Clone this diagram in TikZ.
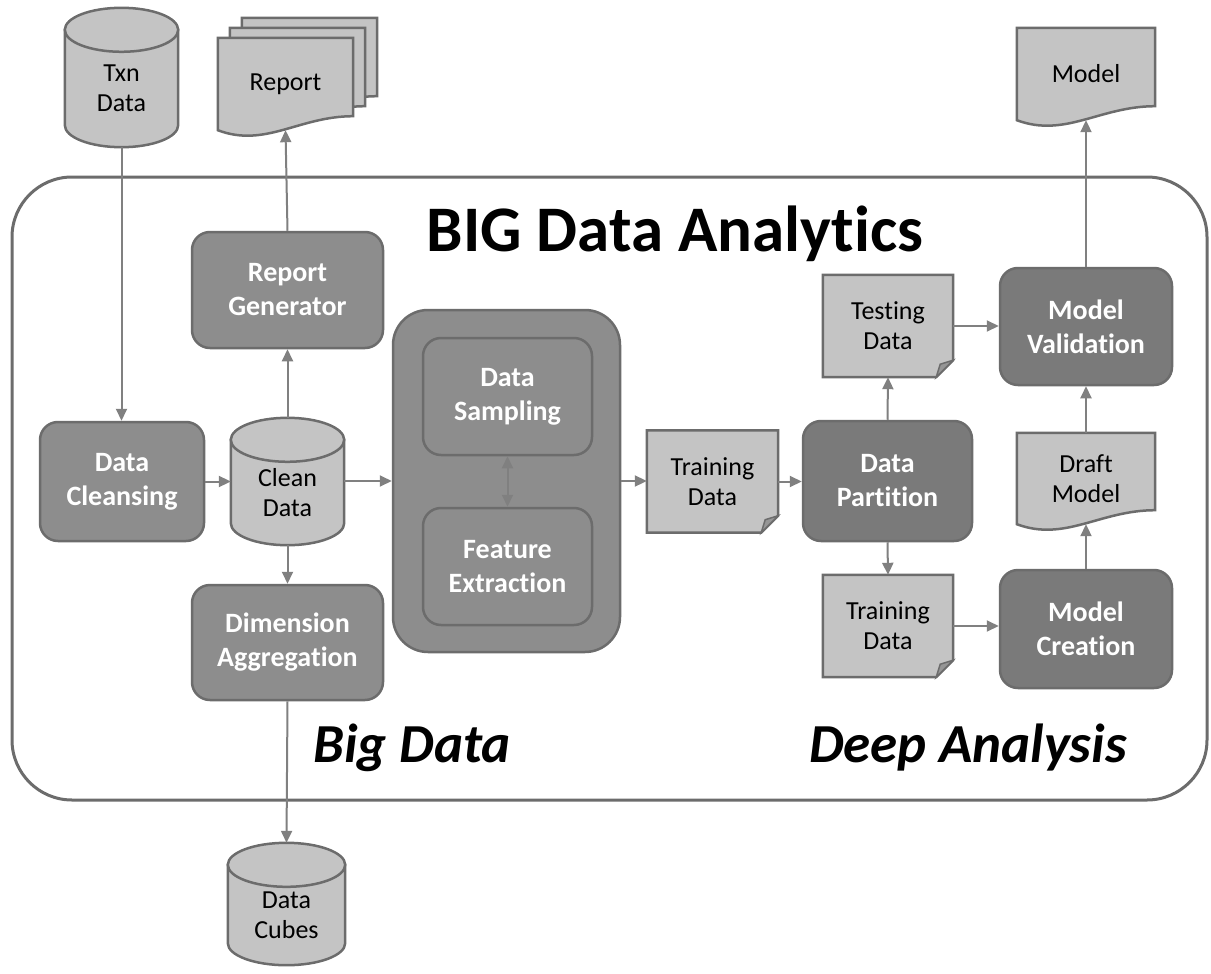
\documentclass[tikz,border=0pt]{standalone}
\usepackage{fontspec}
\setmainfont{Carlito}[Ligatures=NoCommon]
\usetikzlibrary{arrows.meta,calc,backgrounds}

\definecolor{lightfill}{RGB}{196,196,196}
\definecolor{boxfill}{RGB}{141,141,141}
\definecolor{darkfill}{RGB}{122,122,122}
\definecolor{edgegray}{RGB}{108,108,108}
\definecolor{arrowgray}{RGB}{128,128,128}
\definecolor{foldgray}{RGB}{150,150,150}

\tikzset{
  procbox/.style={rectangle, rounded corners=18pt, draw=edgegray, line width=2.5pt,
    fill=boxfill, text=white, font=\fontsize{28}{34}\selectfont\bfseries, align=center, inner sep=0pt},
  darkbox/.style={procbox, fill=darkfill},
  paper/.style={rectangle, inner sep=0pt, font=\fontsize{26}{30}\selectfont, align=center},
  docline/.style={draw=edgegray, line width=2.5pt, fill=lightfill},
  flow/.style={draw=arrowgray, line width=2pt, -{Triangle[length=12pt,width=11pt]}},
  twoway/.style={flow, {Triangle[length=12pt,width=11pt]}-{Triangle[length=12pt,width=11pt]}},
}

% data store: node is the body below the centre of the top face
\newcommand{\drum}[1]{%
  \draw[docline] (#1.north west) -- ($(#1.south west)+(0,-22)$)
    .. controls ($(#1.south west)+(0,-9.85)$) and ($(#1.south)!0.5523!(#1.south west)$) .. (#1.south)
    .. controls ($(#1.south)!0.5523!(#1.south east)$) and ($(#1.south east)+(0,-9.85)$) .. ($(#1.south east)+(0,-22)$)
    -- (#1.north east) -- cycle;
  \path[docline] let \p1=($(#1.north east)-(#1.north)$) in (#1.north) ellipse [x radius=\x1, y radius=22pt];}
% document with a wavy bottom edge
\newcommand{\wavepaper}[1]{%
  \draw[docline] (#1.south west)
    .. controls ($(#1.south west)!0.35!(#1.south east)+(0,18)$)
    and ($(#1.south west)!0.6!(#1.south east)+(0,-14)$)
    .. ($(#1.south east)+(0,-14)$) -- (#1.north east) -- (#1.north west) -- cycle;}
% note with a folded corner
\newcommand{\foldpaper}[1]{%
  \draw[docline] (#1.north west) -- (#1.north east) -- ($(#1.south east)+(0,-17)$)
    -- ($(#1.south east)+(-17,0)$) -- (#1.south west) -- cycle;
  \draw[docline, fill=foldgray, line width=1.5pt] ($(#1.south east)+(0,-17)$)
    -- ($(#1.south east)+(-13,-13)$) -- ($(#1.south east)+(-17,0)$) -- cycle;}

\begin{document}
\begin{tikzpicture}[x=1pt, y=-1pt]
    \useasboundingbox (0,0) rectangle (1211,974);

    % Stores
    \node[paper, minimum width=113pt, minimum height=117pt] (txn) at (121.5,88.5) {Txn\\Data};
    \node[paper, minimum width=113pt, minimum height=105pt] (clean) at (287.5,492.5) {Clean\\Data};
    \node[paper, minimum width=117pt, minimum height=100pt] (cubes) at (286.5,915) {Data\\Cubes};

    % Report stack and documents
    \node[paper, minimum width=135pt, minimum height=92pt] (report3) at (309.5,64) {};
    \node[paper, minimum width=135pt, minimum height=92pt] (report2) at (297.5,74) {};
    \node[paper, minimum width=135pt, minimum height=92pt] (report) at (285.5,84) {Report};
    \node[paper, minimum width=138pt, minimum height=92pt] (model) at (1086,74) {Model};
    \node[paper, minimum width=138pt, minimum height=91pt] (draft) at (1086,478.5) {Draft\\Model};
    \node[paper, minimum width=131pt, minimum height=102pt] (train) at (712.5,481.5) {Training\\Data};
    \node[paper, minimum width=130pt, minimum height=102pt] (testing) at (888,326) {Testing\\Data};
    \node[paper, minimum width=130pt, minimum height=102pt] (trainb) at (888,626) {Training\\Data};

    % Big Data steps
    \node[procbox, minimum width=191pt, minimum height=116pt] (repgen) at (287.5,290) {Report\\Generator};
    \node[procbox, minimum width=164pt, minimum height=119pt] (cleansing) at (122,481.5) {Data\\Cleansing};
    \node[procbox, minimum width=191pt, minimum height=115pt] (dimagg) at (287.5,642.5) {Dimension\\Aggregation};
    \node[procbox, minimum width=227pt, minimum height=342pt, rounded corners=35pt] (prep) at (506.5,481) {};
    \node[procbox, minimum width=169pt, minimum height=117pt] (sampling) at (507.5,396.5) {Data\\Sampling};
    \node[procbox, minimum width=169pt, minimum height=117pt] (feature) at (507.5,566.5) {Feature\\Extraction};

    % Deep Analysis steps
    \node[darkbox, minimum width=169pt, minimum height=120pt] (partition) at (887.5,481) {Data\\Partition};
    \node[darkbox, minimum width=172pt, minimum height=117pt] (validation) at (1086,326.5) {Model\\Validation};
    \node[darkbox, minimum width=172pt, minimum height=118pt] (creation) at (1086,629) {Model\\Creation};

    % Labels
    \node[font=\fontsize{65}{70}\selectfont\bfseries] (title) at (675,234) {BIG Data Analytics};
    \node[font=\fontsize{55}{60}\selectfont\bfseries\itshape] (bigdata) at (412,748) {Big Data};
    \node[font=\fontsize{55}{60}\selectfont\bfseries\itshape] (deep) at (968,748) {Deep Analysis};

    % Frame, stores and document outlines
    \begin{scope}[on background layer]
        \draw[draw=edgegray, line width=3pt, fill=white, rounded corners=60pt] (12,177) rectangle (1207,800);
        \drum{txn}
        \drum{clean}
        \drum{cubes}
        \wavepaper{report3}
        \wavepaper{report2}
        \wavepaper{report}
        \wavepaper{model}
        \wavepaper{draft}
        \foldpaper{train}
        \foldpaper{testing}
        \foldpaper{trainb}
    \end{scope}

    % Connectors
    \draw[flow] (txn.south) -- (txn.south |- cleansing.north);
    \draw[flow] (cleansing.east) -- (cleansing.east -| clean.west);
    \draw[flow] (prep.west -| clean.east) -- (prep.west);
    \draw[flow] ($(clean.north)+(0,-22)$) -- (repgen.south);
    \draw[flow] (repgen.north) -- (report.south);
    \draw[flow] (clean.south) -- (dimagg.north);
    \draw[flow] (dimagg.south) -- ($(cubes.north)+(0,-22)$);
    \draw[twoway] (sampling.south) -- (feature.north);
    \draw[flow] (prep.east) -- (prep.east -| train.west);
    \draw[flow] (train.east) -- (train.east -| partition.west);
    \draw[flow] (partition.north) -- (testing.south);
    \draw[flow] (partition.south) -- (trainb.north);
    \draw[flow] (testing.east) -- (testing.east -| validation.west);
    \draw[flow] (trainb.east) -- (trainb.east -| creation.west);
    \draw[flow] (creation.north) -- (draft.south);
    \draw[flow] (draft.north) -- (validation.south);
    \draw[flow] (validation.north) -- (model.south);
\end{tikzpicture}
\end{document}
